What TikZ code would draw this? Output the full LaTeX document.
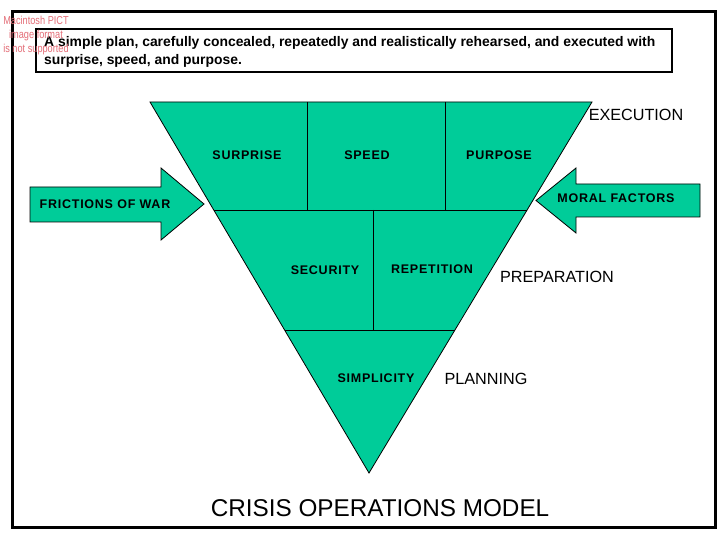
\documentclass[tikz,border=0pt]{standalone}
\usepackage{fontspec}
\setmainfont{Liberation Sans}
\newfontfamily\spacedsans[LetterSpace=6]{Liberation Sans}
\usetikzlibrary{calc}
\usetikzlibrary{positioning}
\definecolor{funnelgreen}{RGB}{0,204,153}
\definecolor{pictred}{RGB}{228,110,120}
\tikzset{cell/.style={font=\spacedsans\bfseries\fontsize{12.5}{14}\selectfont, inner sep=0pt}}
\tikzset{stage/.style={font=\fontsize{16.2}{18}\selectfont, inner sep=0pt}}
\tikzset{push/.style={draw=black, line width=0.8pt, fill=funnelgreen, line join=miter}}

\begin{document}
\begin{tikzpicture}[x=1pt, y=-1pt]
\useasboundingbox[fill=white] (0,0) rectangle (720,540);

% frames
\draw[line width=3pt] (12,12) rectangle (715,527);
\draw[line width=1.5pt] (36,29) rectangle (672,72);
\node[font=\bfseries\fontsize{13.9}{18}\selectfont, anchor=north west, align=left, inner sep=0pt] (motto) at (44,36)
	{A simple plan, carefully concealed, repeatedly and realistically rehearsed, and executed with\\surprise, speed, and purpose.};

% funnel
\coordinate (tl) at (150,102);
\coordinate (tr) at (592,102);
\coordinate (apex) at (369,473);
\draw[push] (tl) -- (tr) -- (apex) -- cycle;
\coordinate (r1l) at ($ (tl)!0.2911!(apex) $);
\coordinate (r1r) at ($ (tr)!0.2911!(apex) $);
\coordinate (r2l) at ($ (tl)!0.6146!(apex) $);
\coordinate (r2r) at ($ (tr)!0.6146!(apex) $);
\draw[line width=0.8pt] (r1l) -- (r1r);
\draw[line width=0.8pt] (r2l) -- (r2r);
\draw[line width=0.8pt] (307,102) -- (307,210);
\draw[line width=0.8pt] (445,102) -- (445,210);
\draw[line width=0.8pt] (373,210) -- (373,330);

\foreach \name/\x/\txt in {surprise/247/SURPRISE, speed/367/SPEED, purpose/499/PURPOSE} {
	\node[cell] (\name) at (\x,155) {\txt};
}
\node[cell] (security) at (325,270) {SECURITY};
\node[cell] (repetition) at (432,269) {REPETITION};
\node[cell] (simplicity) at (376,378) {SIMPLICITY};

\node[stage] (execution) at (636,115) {EXECUTION};
\node[stage] (preparation) at (557,277) {PREPARATION};
\node[stage] (planning) at (486,379) {PLANNING};

% side arrows
\draw[push] (30,187) -- (161,187) -- (161,168) -- (204,204) -- (161,240) -- (161,222) -- (30,222) -- cycle;
\node[cell] (frictions) at (105,204) {FRICTIONS OF WAR};
\draw[push] (700,184) -- (576,184) -- (576,168) -- (536,200.5) -- (576,233) -- (576,217) -- (700,217) -- cycle;
\node[cell] (moral) at (616,198) {MORAL FACTORS};

\node[font=\fontsize{24.3}{28}\selectfont, inner sep=0pt] (title) at (380,508) {CRISIS OPERATIONS MODEL};

% placeholder note
\node[text=pictred, font=\fontsize{11.5}{14}\selectfont, xscale=0.8, align=center, inner sep=0pt] (pict) at (36,36)
	{Macintosh PICT\\image format\\is not supported};
\end{tikzpicture}
\end{document}
